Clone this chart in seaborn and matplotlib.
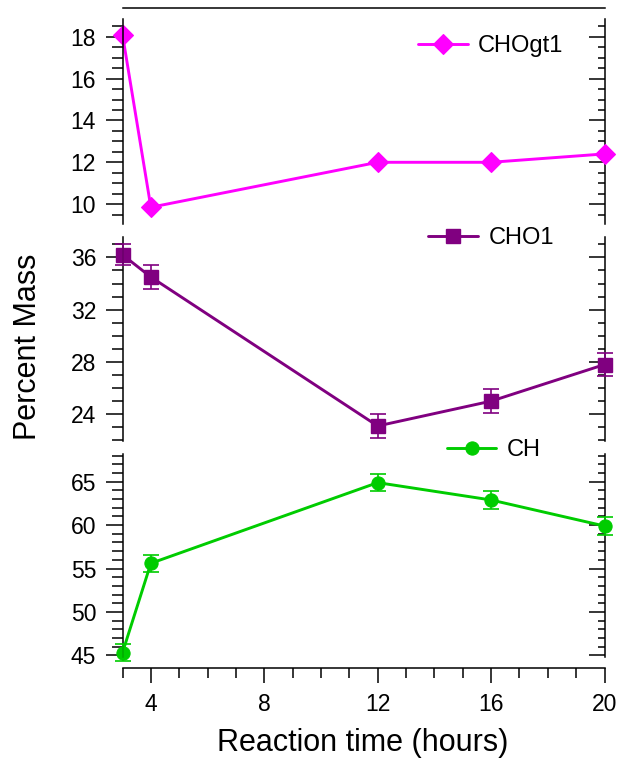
import matplotlib
matplotlib.use("Agg")
import matplotlib.pyplot as plt
from matplotlib.ticker import MultipleLocator
import seaborn as sns
import numpy as np

# ---- data ----
hours = [3, 4, 12, 16, 20]
chogt1 = [18.1, 9.85, 12.0, 12.0, 12.4]
cho1 = [36.2, 34.5, 23.1, 25.0, 27.8]
cho1_err = [0.8, 0.9, 0.9, 0.9, 0.85]
ch = [45.3, 55.6, 64.9, 62.9, 59.9]
ch_err = [1.0, 1.0, 1.0, 1.0, 1.0]
x_ticks = [4, 8, 12, 16, 20]

sns.set_theme(style="ticks")
plt.rcParams["font.family"] = ["Liberation Sans", "DejaVu Sans"]
plt.rcParams["text.color"] = "black"
plt.rcParams["axes.labelcolor"] = "black"
plt.rcParams["xtick.color"] = "black"
plt.rcParams["ytick.color"] = "black"
plt.rcParams["axes.edgecolor"] = "black"

W, H = 620, 759
fig = plt.figure(figsize=(W / 100, H / 100), dpi=100)

left_px, right_px = 122.5, 604.5
def add_axes(top_px, bot_px, **kw):
    return fig.add_axes([left_px / W, 1 - bot_px / H, (right_px - left_px) / W,
                         (bot_px - top_px) / H], **kw)

ax_bot = add_axes(454, 657)
ax_mid = add_axes(236.5, 441, sharex=ax_bot)
ax_top = add_axes(19, 224, sharex=ax_bot)

MAG = "#FF00FF"
PUR = "#800080"
GRN = "#00CC00"

lw = 2.1
sns.lineplot(x=hours, y=chogt1, ax=ax_top, color=MAG, marker="D", markersize=10,
             markeredgecolor=MAG, markeredgewidth=0.8, linewidth=lw, label="CHOgt1",
             errorbar=None, clip_on=False)
sns.lineplot(x=hours, y=cho1, ax=ax_mid, color=PUR, marker="s", markersize=10.5,
             markeredgecolor=PUR, markeredgewidth=1, linewidth=lw, label="CHO1",
             errorbar=None, clip_on=False)
ax_mid.errorbar(hours, cho1, yerr=cho1_err, fmt="none", ecolor=PUR, elinewidth=1.2,
                capsize=6, capthick=1.2, clip_on=False, zorder=3)
sns.lineplot(x=hours, y=ch, ax=ax_bot, color=GRN, marker="o", markersize=9.5,
             markeredgecolor=GRN, markeredgewidth=0.8, linewidth=lw, label="CH",
             errorbar=None, clip_on=False)
ax_bot.errorbar(hours, ch, yerr=ch_err, fmt="none", ecolor=GRN, elinewidth=1.2,
                capsize=6, capthick=1.2, clip_on=False, zorder=3)

ax_bot.set_xlim(3, 20)
ax_top.set_ylim(9.05, 18.85)
ax_mid.set_ylim(21.95, 37.6)
ax_bot.set_ylim(44.8, 68.2)

spine_lw = 1.1
tick_fs = 16.5
settings = [
    (ax_top, 2, 0.5),
    (ax_mid, 4, 1),
    (ax_bot, 5, 1),
]
for ax, maj, mnr in settings:
    ax.set_xlabel("")
    ax.set_ylabel("")
    ax.patch.set_alpha(0)
    for s in ax.spines.values():
        s.set_linewidth(spine_lw)
        s.set_color("black")
    ax.spines["top"].set_visible(False)
    ax.spines["bottom"].set_visible(False)
    ax.spines["right"].set_visible(False)
    ax.yaxis.set_major_locator(MultipleLocator(maj))
    ax.yaxis.set_minor_locator(MultipleLocator(mnr))
    ax.tick_params(axis="y", which="major", direction="out", length=12, width=spine_lw,
                   labelsize=tick_fs, pad=7, colors="black", left=True, right=False)
    ax.tick_params(axis="y", which="minor", direction="out", length=8, width=spine_lw,
                   left=True, right=False, colors="black")
    sec = ax.secondary_yaxis("right")
    sec.yaxis.set_major_locator(MultipleLocator(maj))
    sec.yaxis.set_minor_locator(MultipleLocator(mnr))
    sec.spines["right"].set_linewidth(spine_lw)
    sec.spines["right"].set_color("black")
    sec.tick_params(axis="y", which="major", direction="in", length=11.5, width=spine_lw,
                    labelright=False, colors="black")
    sec.tick_params(axis="y", which="minor", direction="in", length=5, width=spine_lw,
                    colors="black")
    for lab in ax.get_yticklabels():
        lab.set_fontsize(tick_fs)
        lab.set_color("black")

# top frame line
ax_top.spines["top"].set_visible(True)
ax_top.spines["top"].set_position(("outward", 7.7))
for ax in (ax_top, ax_mid):
    ax.tick_params(axis="x", which="both", bottom=False, top=False, labelbottom=False)

ax_bot.spines["bottom"].set_visible(True)
ax_bot.spines["bottom"].set_position(("outward", 7.9))
ax_bot.set_xticks(x_ticks)
ax_bot.xaxis.set_minor_locator(MultipleLocator(1))
ax_bot.tick_params(axis="x", which="major", direction="out", length=11, width=spine_lw,
                   labelsize=tick_fs, pad=7, colors="black", bottom=True, top=False)
ax_bot.tick_params(axis="x", which="minor", direction="out", length=7, width=spine_lw,
                   bottom=True, top=False, colors="black")

# legends
leg_pos = [(ax_top, 0.613, 0.868), (ax_mid, 0.634, 0.993), (ax_bot, 0.673, 1.02)]
for ax, lx, ly in leg_pos:
    h, l = ax.get_legend_handles_labels()
    leg = ax.legend(h, l, loc="center left", bbox_to_anchor=(lx, ly), frameon=False,
                    borderpad=0, borderaxespad=0, handlelength=2.1, handletextpad=0.45,
                    fontsize=17, labelcolor="black")
    leg.set_zorder(10)

fig.text(363 / W, 1 - 751 / H, "Reaction time (hours)", ha="center", va="baseline",
         fontsize=22, color="black")
fig.text(28 / W, 1 - 347 / H, "Percent Mass", ha="center", va="center",
         rotation=90, fontsize=22, color="black")

fig.savefig("out.png", dpi=100, facecolor="white")
